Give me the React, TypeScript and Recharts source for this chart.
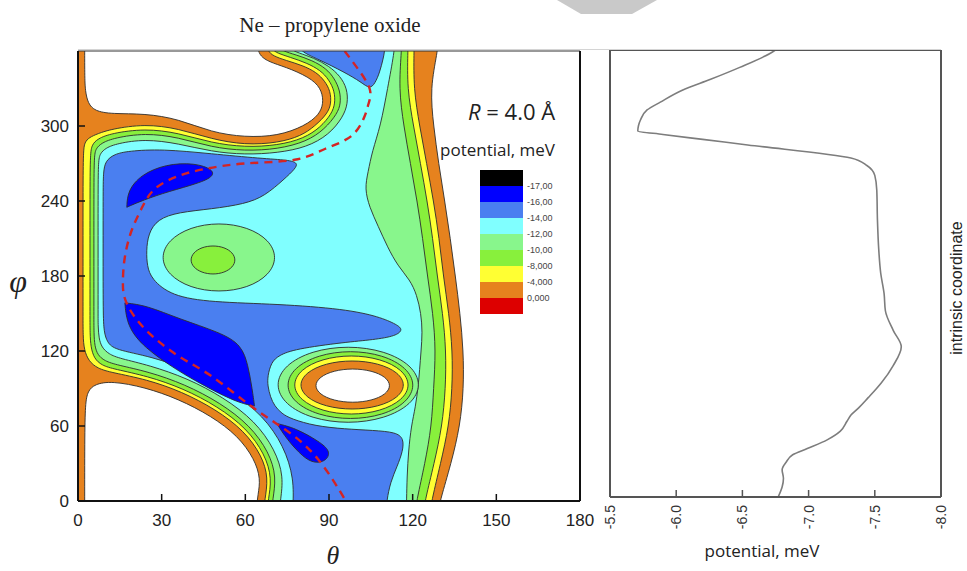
import React from "react";
import { ComposedChart, Area, Line, XAxis, YAxis } from "recharts";

type Pt = number[];

// contour map axes
const thetaTicks = [0, 30, 60, 90, 120, 150, 180];
const thetaMinor = [15, 45, 75, 105, 135, 165];
const phiTicks = [0, 60, 120, 180, 240, 300];
const phiFrame = [0, 60, 120, 180, 240, 300, 360];
const phiMinor = [30, 90, 150, 210, 270, 330];

// potential along the intrinsic coordinate (read top to bottom)
const potTicks = [-5.5, -6, -6.5, -7, -7.5, -8];
const potMinor = [-5.75, -6.25, -6.75, -7.25, -7.75];
const pathCoord = [360, 358.6, 346, 336.4, 327.8, 318, 311.7, 303.6, 299, 294.8, 292, 288, 283.5, 273, 267, 259, 247, 223, 199, 180, 164, 150, 134, 121, 106, 92, 87, 80, 72, 66, 61, 53, 46, 39, 34, 28, 22, 15, 8, 0];
const pathPotential = [-6.75, -6.73, -6.48, -6.26, -6.05, -5.88, -5.78, -5.73, -5.715, -5.71, -5.9, -6.2, -6.54, -7.32, -7.44, -7.5, -7.515, -7.52, -7.53, -7.545, -7.57, -7.58, -7.64, -7.7, -7.64, -7.55, -7.51, -7.45, -7.38, -7.32, -7.29, -7.24, -7.14, -6.99, -6.88, -6.83, -6.8, -6.81, -6.8, -6.77];

// minimum energy path on the map [theta, phi]
const mepPath: Pt[] = [[95.6, 360], [100.4, 345.6], [104.6, 329.6], [104.2, 318], [102.8, 308], [98, 292], [88.5, 281.6], [77.7, 273], [59.8, 270], [45.4, 265.6], [36, 260], [27.5, 249.6], [22.7, 233.6], [19, 215], [16.7, 193.6], [16.1, 175], [17.3, 159], [24, 137.6], [36, 116], [47.8, 100], [62, 76], [74, 57.6], [86, 33.6], [95.6, 1.6], [96, 0]];

// contour zones [theta, phi, sharp]
const zoneOrange: Pt[] = [[-3, -6, 1], [129.5, -6, 1], [129.8, 0], [133.8, 30], [137, 60], [138.3, 90], [138.2, 120], [137, 150], [135.3, 180], [133.5, 210], [131.5, 240], [129.3, 270], [127.5, 300], [126.2, 330], [129, 360], [129, 368, 1], [-3, 368, 1]];
const holeTop: Pt[] = [[2.4, 368, 1], [2.4, 340], [2.6, 328], [3.6, 318], [6, 312], [12, 309.6], [24, 310], [36, 305.6], [47.8, 295], [59.8, 291], [71.7, 292], [81.3, 300], [86.5, 309], [88, 318], [87.5, 328], [84.5, 337], [76.5, 345.6], [69.5, 350.5], [66, 354.5], [64.5, 360], [64.3, 368, 1]];
const holeBottom: Pt[] = [[2.4, -6, 1], [2.4, 50], [2.6, 78], [3.5, 88], [6, 93.5], [12, 96], [24, 91], [36, 81.6], [47.8, 68], [57.4, 52], [63.3, 33.6], [65.5, 17.6], [64.5, 5], [64, -6, 1]];
const zoneYellow: Pt[] = [[1.8, 200], [1.8, 250], [1.9, 280], [2.4, 287], [4, 290.8], [7, 293.8], [12, 297.6], [24, 301.6], [36, 298], [47.8, 289.6], [59.8, 284.8], [71.7, 286.5], [80, 292], [85, 300], [89.5, 310], [90.8, 318], [90.5, 328], [88.5, 336], [85.5, 343], [80.5, 348.5], [74.5, 352.5], [70, 356], [68, 360], [67.6, 368, 1], [120.5, 368, 1], [120.5, 360], [120.3, 330], [122.5, 300], [125, 270], [127.5, 240], [129.5, 210], [131, 180], [133, 150], [134.3, 120], [134.2, 90], [133, 60], [130, 30], [126.8, 0], [126.5, -6, 1], [66.8, -6, 1], [66.9, 0], [68.3, 18.5], [65.9, 36.4], [59.6, 56.2], [49.4, 73.3], [37.2, 87.5], [24.6, 97.3], [12, 102.8], [7, 106], [3.8, 112], [2.2, 121], [1.8, 132], [1.8, 150]];
const zoneGreen: Pt[] = [[4.3, 200], [4.3, 250], [4.4, 278], [5, 285], [7, 289.8], [12, 294.2], [24, 298], [36, 294.5], [47.8, 286.5], [59.8, 283], [71.7, 284.5], [81, 290], [87, 299], [91, 310], [92.2, 318], [92, 328], [90, 337], [87, 344.5], [82, 350.5], [76, 355], [71.5, 358.3], [69.6, 361], [69.3, 368, 1], [118.3, 368, 1], [118.3, 360], [118, 330], [120.3, 300], [122.8, 270], [125.2, 240], [127.2, 210], [128.8, 180], [130.8, 150], [132, 120], [131.8, 90], [130.6, 60], [127.7, 30], [124.4, 0], [124.2, -6, 1], [68.1, -6, 1], [68.1, 0], [69.6, 18], [67, 37.5], [60.5, 58.1], [50.1, 75.6], [37.7, 90.1], [24.8, 100], [13, 105.5], [8.5, 108.5], [5.8, 114], [4.6, 123], [4.3, 134], [4.3, 150]];
const zoneLight: Pt[] = [[5.7, 200], [5.7, 250], [5.8, 276], [6.4, 282], [8.5, 286.5], [13, 290.5], [24, 294.4], [36, 291], [47.8, 283], [59.8, 280], [71.7, 281.5], [82, 287.5], [88.5, 297.5], [93, 310], [94.2, 318], [94, 328], [92, 338], [89, 346], [84, 352.5], [78, 357], [73.5, 360], [71.8, 363], [71.7, 368, 1], [116, 368, 1], [116, 360], [115, 330], [116.8, 300], [119.2, 270], [121.6, 240], [123.6, 210], [125.3, 180], [127.3, 150], [128.3, 120], [127.5, 90], [126.8, 60], [124.4, 30], [121.4, 0], [121.2, -6, 1], [69.7, -6, 1], [69.7, 0], [71.2, 19], [68.5, 39.1], [61.7, 60.4], [51, 78.6], [38.3, 93.4], [25.2, 103.5], [14, 108.8], [9.5, 112], [7, 117], [6, 124], [5.7, 134], [5.7, 150]];
const zoneCyan: Pt[] = [[7.2, 200], [7.2, 250], [7.3, 272], [7.9, 278], [10, 282.5], [14, 286], [24, 289.6], [36, 286], [47.8, 279.5], [59.8, 277], [71.7, 278.5], [82, 283], [90, 293], [95, 307], [96.8, 318], [96.5, 330], [94, 340], [90, 348], [84.5, 354.5], [79, 358.5], [76, 361.5], [75.3, 368, 1], [113.5, 368, 1], [113.5, 360], [111, 330], [108.5, 300], [105.5, 280], [104, 263], [102.8, 250], [104.5, 235], [107.6, 220], [111, 203], [114.7, 188], [119, 177], [121.5, 165], [123, 150], [123.5, 135], [123, 120], [122.5, 105], [122, 92], [121, 75], [119.5, 60], [118.5, 40], [118, 20], [117.8, 0], [117.8, -6, 1], [72.5, -6, 1], [72.5, 0], [73.8, 19.5], [70.6, 41.3], [63.5, 63.9], [52.2, 82.9], [39.2, 98.2], [25.6, 108.6], [15, 114], [11, 117.5], [8.5, 123], [7.5, 130], [7.2, 140], [7.2, 150]];
const zoneMid: Pt[] = [[77, -6, 1], [77.5, 18], [73.8, 44], [66.5, 68], [55, 88], [41, 104], [26.3, 115.7], [13, 121], [10.5, 127], [9.3, 135], [9, 150], [9, 200], [9, 250], [9.1, 263], [9.8, 272], [13, 277.5], [18, 280], [30, 281.6], [47.8, 277.8], [65.7, 274], [75.5, 272.8], [78.8, 270.5], [78, 266], [74, 257.6], [67, 244], [59.8, 237.6], [47.8, 233.6], [36, 231], [28.5, 225.5], [25.2, 214], [24.5, 200], [24.8, 188], [26.3, 177.6], [33.5, 164], [47.8, 159], [71.7, 157.6], [95.6, 153.6], [108, 147.5], [114.5, 141], [116.5, 137], [114, 132], [106, 129], [95.6, 127], [77.7, 121.6], [72, 116.5], [69.3, 111], [68, 100], [68, 92.3], [69, 83], [70.5, 76], [73, 70], [76.5, 65.6], [85, 60], [95.6, 57.6], [106, 56.5], [114, 55], [116.8, 50], [116.5, 40], [114.5, 28], [112, 15], [110.7, 0], [110.7, -6, 1]];
const zoneMidTop: Pt[] = [[79, 368, 1], [79.3, 360], [86, 353.6], [95.6, 343], [101.6, 335], [104.6, 329.6], [106.5, 334], [108.2, 343], [109.4, 353.6], [110, 360], [110, 368, 1]];
const wellUpper: Pt[] = [[17.5, 235, 1], [17.8, 248], [22.5, 261], [31.5, 269.5], [41.8, 270.5], [48.8, 265], [48.3, 258.5], [40.6, 252.5], [30, 246], [21.5, 239]];
const wellMiddle: Pt[] = [[16.8, 158.5, 1], [24.5, 156.5], [36.5, 145.5], [50.8, 135], [58.7, 125], [61, 108], [62.3, 92], [63.3, 76, 1], [57.5, 78.5], [47, 90], [35.5, 104.5], [23.5, 123], [17.6, 140]];
const wellLower: Pt[] = [[71.3, 62, 1], [78, 58.3], [86.6, 47.5], [90.5, 40], [89.3, 32.5], [85, 29.8], [80.7, 35], [74.8, 49.5]];
const ringLight: Pt[] = [[123.2, 93], [119.7, 108.7], [110, 120.2], [96.9, 124.4], [83.7, 120.2], [74.1, 108.7], [70.6, 93], [74.1, 77.3], [83.7, 65.8], [96.9, 61.6], [110, 65.8], [119.7, 77.3]];
const ringGreen: Pt[] = [[121.1, 92.7], [117.9, 106.7], [109.4, 116.9], [97.7, 120.7], [86, 116.9], [77.4, 106.7], [74.3, 92.7], [77.4, 78.7], [86, 68.5], [97.7, 64.8], [109.4, 68.5], [117.9, 78.7]];
const ringYellow: Pt[] = [[119.3, 92.8], [116.4, 105], [108.6, 113.8], [98, 117.1], [87.4, 113.8], [79.6, 105], [76.8, 92.8], [79.6, 80.7], [87.4, 71.8], [98, 68.5], [108.6, 71.8], [116.4, 80.7]];
const ringOrange: Pt[] = [[117.5, 92.8], [114.9, 102.9], [107.9, 110.2], [98.3, 112.9], [88.7, 110.2], [81.7, 102.9], [79.1, 92.8], [81.7, 82.7], [88.7, 75.4], [98.3, 72.7], [107.9, 75.4], [114.9, 82.7]];
const ringCore: Pt[] = [[112.3, 92.3], [110.4, 99.3], [105.4, 104.3], [98.5, 106.2], [91.6, 104.3], [86.6, 99.3], [84.7, 92.3], [86.6, 85.3], [91.6, 80.3], [98.5, 78.4], [105.4, 80.3], [110.4, 85.3]];
const bumpLight: Pt[] = [[71.4, 194.8], [68.6, 208.8], [61, 219.1], [50.5, 222.9], [40.1, 219.1], [32.4, 208.8], [29.6, 194.8], [32.4, 180.8], [40.1, 170.5], [50.5, 166.8], [61, 170.5], [68.6, 180.8]];
const bumpGreen: Pt[] = [[56.6, 192.8], [55.5, 198.7], [52.5, 203], [48.4, 204.5], [44.3, 203], [41.3, 198.7], [40.2, 192.8], [41.3, 187], [44.3, 182.7], [48.4, 181.1], [52.5, 182.7], [55.5, 187]];

const legendLevels = ["-17,00", "-16,00", "-14,00", "-12,00", "-10,00", "-8,000", "-4,000", "0,000"];

const C = {
  black: "#000000",
  blue: "#0000ff",
  mid: "#4a7ff0",
  cyan: "#80ffff",
  light: "#88f68c",
  green: "#88f03c",
  yellow: "#ffff33",
  orange: "#e6821e",
  red: "#dd0000",
  white: "#ffffff",
};
const legendColors = [C.black, C.blue, C.mid, C.cyan, C.light, C.green, C.yellow, C.orange, C.red];

const layers: { id: string; pts: Pt[]; fill: string }[] = [
  { id: "orange", pts: zoneOrange, fill: C.orange },
  { id: "holeTop", pts: holeTop, fill: C.white },
  { id: "holeBottom", pts: holeBottom, fill: C.white },
  { id: "yellow", pts: zoneYellow, fill: C.yellow },
  { id: "green", pts: zoneGreen, fill: C.green },
  { id: "light", pts: zoneLight, fill: C.light },
  { id: "cyan", pts: zoneCyan, fill: C.cyan },
  { id: "mid", pts: zoneMid, fill: C.mid },
  { id: "midTop", pts: zoneMidTop, fill: C.mid },
  { id: "wellU", pts: wellUpper, fill: C.blue },
  { id: "wellM", pts: wellMiddle, fill: C.blue },
  { id: "wellL", pts: wellLower, fill: C.blue },
  { id: "ringL", pts: ringLight, fill: C.light },
  { id: "ringG", pts: ringGreen, fill: C.green },
  { id: "ringY", pts: ringYellow, fill: C.yellow },
  { id: "ringO", pts: ringOrange, fill: C.orange },
  { id: "ringC", pts: ringCore, fill: C.white },
  { id: "bumpL", pts: bumpLight, fill: C.light },
  { id: "bumpG", pts: bumpGreen, fill: C.green },
];

const rows = (pts: Pt[]) =>
  pts.flatMap((q) => {
    const r = { t: q[0], p: q[1] };
    return q[2] ? [r, r, r] : [r];
  });

const profileRows = pathCoord.map((c, i) => ({ v: pathPotential[i], c }));

const arial = "'Liberation Sans', Arial, sans-serif";
const serif = "'Liberation Serif', 'Times New Roman', serif";
const frame = { stroke: "#111", strokeWidth: 2 };
const tickLn = { stroke: "#111", strokeWidth: 1.5 };
const grayFrame = { stroke: "#555", strokeWidth: 2 };
const grayTick = { stroke: "#555", strokeWidth: 1.5 };

const PotTick = (props: any) => {
  const { x, y, payload } = props;
  return (
    <text x={x} y={y} transform={`rotate(-90 ${x} ${y})`} textAnchor="end" dominantBaseline="central" fontSize={14} fill="#333" fontFamily={arial}>
      {Number(payload.value).toFixed(1)}
    </text>
  );
};

function ContourMap() {
  return (
    <ComposedChart width={600} height={571} margin={{ top: 49, right: 18, bottom: 68, left: 76 }}>
      {layers.map((l) => (
        <Area
          key={l.id}
          data={rows(l.pts)}
          dataKey="p"
          xAxisId="x"
          yAxisId="y"
          type="basisClosed"
          fill={l.fill}
          fillOpacity={1}
          stroke="#2d2d2d"
          strokeWidth={0.9}
          dot={false}
          activeDot={false}
          isAnimationActive={false}
        />
      ))}
      <Line
        data={rows(mepPath)}
        dataKey="p"
        xAxisId="x"
        yAxisId="y"
        type="natural"
        stroke="#d42424"
        strokeWidth={2.4}
        strokeDasharray="8 6"
        dot={false}
        activeDot={false}
        isAnimationActive={false}
      />
      <XAxis xAxisId="x" dataKey="t" type="number" domain={[0, 180]} ticks={thetaTicks} interval={0} allowDataOverflow height={1} tickSize={-7} tickMargin={20} axisLine={frame} tickLine={tickLn} tick={{ fontSize: 17, fill: "#222", fontFamily: arial }} />
      <XAxis xAxisId="xm" type="number" domain={[0, 180]} ticks={thetaMinor} interval={0} allowDataOverflow height={1} tickSize={-4} axisLine={false} tickLine={tickLn} tick={false} />
      <XAxis xAxisId="xt" orientation="top" type="number" domain={[0, 180]} ticks={thetaTicks} interval={0} allowDataOverflow height={1} tickSize={-7} axisLine={{ stroke: "#333", strokeWidth: 1 }} tickLine={tickLn} tick={false} />
      <XAxis xAxisId="xtm" orientation="top" type="number" domain={[0, 180]} ticks={thetaMinor} interval={0} allowDataOverflow height={1} tickSize={-4} axisLine={false} tickLine={tickLn} tick={false} />
      <YAxis yAxisId="y" type="number" domain={[0, 360]} ticks={phiTicks} interval={0} allowDataOverflow width={1} tickSize={-7} tickMargin={16} axisLine={frame} tickLine={tickLn} tick={{ fontSize: 17, fill: "#222", fontFamily: arial }} />
      <YAxis yAxisId="ym" type="number" domain={[0, 360]} ticks={phiMinor} interval={0} allowDataOverflow width={1} tickSize={-4} axisLine={false} tickLine={tickLn} tick={false} />
      <YAxis yAxisId="yr" orientation="right" type="number" domain={[0, 360]} ticks={phiFrame} interval={0} allowDataOverflow width={1} tickSize={-7} axisLine={frame} tickLine={tickLn} tick={false} />
      <YAxis yAxisId="yrm" orientation="right" type="number" domain={[0, 360]} ticks={phiMinor} interval={0} allowDataOverflow width={1} tickSize={-4} axisLine={false} tickLine={tickLn} tick={false} />
    </ComposedChart>
  );
}

function ProfilePanel() {
  return (
    <ComposedChart width={367} height={571} margin={{ top: 48, right: 24, bottom: 72, left: 8 }}>
      <Line
        data={profileRows}
        dataKey="c"
        xAxisId="px"
        yAxisId="py"
        type="monotoneY"
        stroke="#7d7d7d"
        strokeWidth={1.6}
        dot={false}
        activeDot={false}
        isAnimationActive={false}
      />
      <XAxis xAxisId="px" dataKey="v" type="number" domain={[-8, -5.5]} reversed ticks={potTicks} interval={0} allowDataOverflow height={1} tickSize={-7} tickMargin={15} axisLine={grayFrame} tickLine={grayTick} tick={PotTick} />
      <XAxis xAxisId="pxm" type="number" domain={[-8, -5.5]} reversed ticks={potMinor} interval={0} allowDataOverflow height={1} tickSize={-4} axisLine={false} tickLine={grayTick} tick={false} />
      <XAxis xAxisId="pxt" orientation="top" type="number" domain={[-8, -5.5]} reversed ticks={potTicks} interval={0} allowDataOverflow height={1} tickSize={-7} axisLine={grayFrame} tickLine={grayTick} tick={false} />
      <XAxis xAxisId="pxtm" orientation="top" type="number" domain={[-8, -5.5]} reversed ticks={potMinor} interval={0} allowDataOverflow height={1} tickSize={-4} axisLine={false} tickLine={grayTick} tick={false} />
      <YAxis yAxisId="py" type="number" domain={[0, 360]} ticks={phiFrame} interval={0} allowDataOverflow width={1} tickSize={-7} axisLine={grayFrame} tickLine={grayTick} tick={false} />
      <YAxis yAxisId="pym" type="number" domain={[0, 360]} ticks={phiMinor} interval={0} allowDataOverflow width={1} tickSize={-4} axisLine={false} tickLine={grayTick} tick={false} />
      <YAxis yAxisId="pyr" orientation="right" type="number" domain={[0, 360]} ticks={phiFrame} interval={0} allowDataOverflow width={1} tickSize={-7} axisLine={grayFrame} tickLine={grayTick} tick={false} />
      <YAxis yAxisId="pyrm" orientation="right" type="number" domain={[0, 360]} ticks={phiMinor} interval={0} allowDataOverflow width={1} tickSize={-4} axisLine={false} tickLine={grayTick} tick={false} />
    </ComposedChart>
  );
}

export default function App() {
  return (
    <div style={{ position: "absolute", left: 0, top: 0, width: 967, height: 571, background: "#fff", overflow: "hidden" }}>
      <div style={{ position: "absolute", left: 0, top: 0 }}>
        <ContourMap />
      </div>
      <div style={{ position: "absolute", left: 600, top: 0 }}>
        <ProfilePanel />
      </div>
      <svg width={967} height={571} style={{ position: "absolute", left: 0, top: 0, pointerEvents: "none" }}>
        <polygon points="557,0 657,0 632,14 581,14" fill="#c9c9c9" />
        <line x1={78} x2={941} y1={49.5} y2={49.5} stroke="#d4d4d4" strokeWidth={1} />
        <text x={330} y={31.5} textAnchor="middle" fontFamily={serif} fontSize={21} fill="#222">
          Ne – propylene oxide
        </text>
        <text x={468} y={120} fontFamily="'Open Sans', sans-serif" fontSize={22} fill="#222">
          <tspan fontStyle="italic">R</tspan> = 4.0 Å
        </text>
        <text x={440} y={156} fontFamily="'Open Sans', sans-serif" fontSize={17} fill="#222">
          potential, meV
        </text>
        {legendColors.map((c, i) => (
          <rect key={c + i} x={480} y={170 + i * 16} width={43} height={16} fill={c} />
        ))}
        {legendLevels.map((s, i) => (
          <text key={s} x={527} y={186 + i * 16} dominantBaseline="central" fontFamily={arial} fontSize={9} fill="#444">
            {s}
          </text>
        ))}
        <text x={333} y={564} textAnchor="middle" fontFamily={serif} fontStyle="italic" fontSize={26} fill="#222">
          θ
        </text>
        <text x={18} y={292} textAnchor="middle" fontFamily={serif} fontStyle="italic" fontSize={32} fill="#222">
          φ
        </text>
        <text x={762} y={557} textAnchor="middle" fontFamily="'Open Sans', sans-serif" fontSize={17} fill="#222">
          potential, meV
        </text>
        <text x={962} y={288} transform="rotate(-90 962 288)" textAnchor="middle" fontFamily={arial} fontSize={16} fill="#222">
          intrinsic coordinate
        </text>
      </svg>
    </div>
  );
}
